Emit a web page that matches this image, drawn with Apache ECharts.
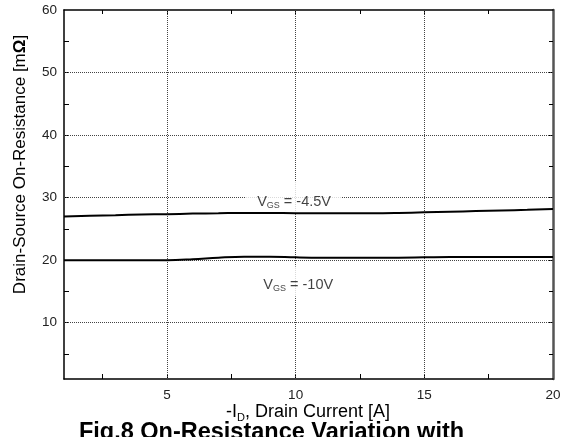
<!DOCTYPE html>
<html>
<head>
<meta charset="utf-8">
<script src="https://cdn.jsdelivr.net/npm/echarts@6/dist/echarts.min.js"></script>
<style>
  html, body { margin: 0; padding: 0; background: #fff; }
  #chart { width: 569px; height: 437px; }
</style>
</head>
<body>
<div id="chart"></div>
<script>
// Drain current axis (A) and on-resistance (mOhm) for two gate voltages
const drainCurrent = [1, 2, 3, 4, 5, 6, 7, 8, 9, 10, 11, 12, 13, 14, 15, 16, 17, 18, 19, 20];
const rdsVgs45 = [27.0, 27.1, 27.2, 27.3, 27.35, 27.45, 27.5, 27.55, 27.55, 27.5,
                  27.5, 27.5, 27.5, 27.55, 27.65, 27.75, 27.85, 27.95, 28.05, 28.2];
const rdsVgs10 = [20.0, 20.0, 20.0, 20.0, 20.0, 20.15, 20.4, 20.55, 20.55, 20.45,
                  20.4, 20.4, 20.4, 20.4, 20.45, 20.5, 20.5, 20.5, 20.5, 20.5];

// Tick positions
const xLabelTicks = [5, 10, 15, 20];
const xAllTicks = [2.5, 5, 7.5, 10, 12.5, 15, 17.5];
const yLabelTicks = [10, 20, 30, 40, 50, 60];
const yAllTicks = [5, 10, 15, 20, 25, 30, 35, 40, 45, 50, 55];
const xGridLines = [5, 10, 15];
const yGridLines = [10, 20, 30, 40, 50];

const FONT = "'Liberation Sans', Arial, Helvetica, sans-serif";

const chart = echarts.init(document.getElementById('chart'), null, { renderer: 'canvas' });

function pairs(xs, ys) { return xs.map((x, i) => [x, ys[i]]); }

const tickStyle = { color: '#000', width: 1 };

const curveLabelRich = {
  v: { fontSize: 14.5, fontFamily: FONT, color: '#111', lineHeight: 16 },
  s: { fontSize: 9, fontFamily: FONT, color: '#111', lineHeight: 10, verticalAlign: 'bottom' }
};

const option = {
  animation: false,
  backgroundColor: '#fff',
  grid: { left: 64, top: 10, right: 16, bottom: 58, containLabel: false },
  xAxis: [
    {
      type: 'value', position: 'bottom', min: 1, max: 20,
      axisLine: { show: true, onZero: false, lineStyle: { color: '#000', width: 1.5 } },
      axisTick: { show: true, inside: true, length: 5, customValues: xAllTicks, lineStyle: tickStyle },
      axisLabel: { show: true, customValues: xLabelTicks, margin: 9, color: '#222', fontSize: 13.5, fontFamily: FONT },
      splitLine: { show: false }
    },
    {
      type: 'value', position: 'top', min: 1, max: 20,
      axisLine: { show: true, onZero: false, lineStyle: { color: '#000', width: 1.5 } },
      axisTick: { show: true, inside: true, length: 4, customValues: xAllTicks, lineStyle: tickStyle },
      axisLabel: { show: false },
      splitLine: { show: false }
    }
  ],
  yAxis: [
    {
      type: 'value', position: 'left', min: 1, max: 60,
      axisLine: { show: true, onZero: false, lineStyle: { color: '#000', width: 1.5 } },
      axisTick: { show: true, inside: true, length: 5, customValues: yAllTicks, lineStyle: tickStyle },
      axisLabel: { show: true, customValues: yLabelTicks, margin: 7, color: '#222', fontSize: 13.5, fontFamily: FONT },
      splitLine: { show: false }
    },
    {
      type: 'value', position: 'right', min: 1, max: 60,
      axisLine: { show: true, onZero: false, lineStyle: { color: '#555', width: 2.5 } },
      axisTick: { show: true, inside: true, length: 4, customValues: yAllTicks, lineStyle: tickStyle },
      axisLabel: { show: false },
      splitLine: { show: false }
    }
  ],
  graphic: [
    {
      type: 'text', x: 308, y: 412,
      style: {
        text: '{a|-I}{s|D}{a|, Drain Current [A]}',
        align: 'center', verticalAlign: 'middle',
        rich: {
          a: { fontSize: 18, fontFamily: FONT, color: '#111', lineHeight: 22 },
          s: { fontSize: 11, fontFamily: FONT, color: '#111', lineHeight: 13, verticalAlign: 'bottom' }
        }
      }
    },
    {
      type: 'text', x: 20, y: 164.5, rotation: Math.PI / 2,
      style: {
        text: '{a|Drain-Source On-Resistance [m}{b|Ω}{a|]}',
        align: 'center', verticalAlign: 'middle',
        rich: {
          a: { fontSize: 17, fontFamily: FONT, color: '#111' },
          b: { fontSize: 17, fontFamily: FONT, color: '#111', fontWeight: 'bold' }
        }
      }
    },
    {
      type: 'text', x: 271.5, y: 421,
      style: {
        text: 'Fig.8 On-Resistance Variation with',
        align: 'center', verticalAlign: 'top',
        font: "bold 23.5px " + FONT, fill: '#000'
      }
    }
  ],
  series: [
    {
      name: 'grid',
      type: 'line',
      data: [],
      silent: true,
      z: 1,
      markLine: {
        z: 1,
        silent: true,
        symbol: 'none',
        animation: false,
        label: { show: false },
        lineStyle: { color: '#444', width: 1, type: [1, 1] },
        data: xGridLines.map(v => ({ xAxis: v })).concat(yGridLines.map(v => ({ yAxis: v })))
      }
    },
    {
      name: 'label45',
      type: 'scatter',
      silent: true,
      z: 3,
      symbolSize: 0,
      data: [[9.9, 30.0]],
      label: {
        show: true, position: 'inside',
        formatter: '{v|V}{s|GS}{v| = -4.5V}',
        backgroundColor: '#fff',
        padding: [13, 10, 4, 12],
        rich: curveLabelRich
      }
    },
    {
      name: 'label10',
      type: 'scatter',
      silent: true,
      z: 3,
      symbolSize: 0,
      data: [[10.1, 16.6]],
      label: {
        show: true, position: 'inside',
        formatter: '{v|V}{s|GS}{v| = -10V}',
        backgroundColor: '#fff',
        padding: [11, 10, 3, 10],
        rich: curveLabelRich
      }
    },
    {
      name: 'VGS = -4.5V',
      type: 'line',
      z: 5,
      data: pairs(drainCurrent, rdsVgs45),
      smooth: 0.4,
      showSymbol: false,
      lineStyle: { color: '#000', width: 2 }
    },
    {
      name: 'VGS = -10V',
      type: 'line',
      z: 5,
      data: pairs(drainCurrent, rdsVgs10),
      smooth: 0.4,
      showSymbol: false,
      lineStyle: { color: '#000', width: 2 }
    }
  ]
};

chart.setOption(option);
</script>
</body>
</html>
